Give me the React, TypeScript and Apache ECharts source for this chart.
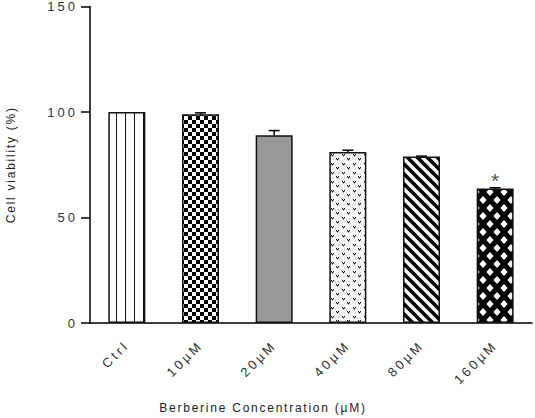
import React, { useEffect, useRef } from "react";
import * as echarts from "echarts";

const categories = ["Ctrl", "10µM", "20µM", "40µM", "80µM", "160µM"];
const means = [100, 98.9, 89.0, 81.1, 78.9, 63.8];
const errors = [0, 0.7, 2.2, 0.8, 0.2, 0.3];
const significant = [false, false, false, false, false, true];
const yMin = 0;
const yMax = 150;
const yInterval = 50;

type Drawer = (ctx: CanvasRenderingContext2D, w: number, h: number) => void;

function makePattern(w: number, h: number, draw: Drawer) {
  const c = document.createElement("canvas");
  c.width = w;
  c.height = h;
  const ctx = c.getContext("2d") as CanvasRenderingContext2D;
  draw(ctx, w, h);
  return { image: c.toDataURL(), imageWidth: w, imageHeight: h, repeat: "repeat" };
}

function buildPatterns() {
  const vlines = makePattern(9, 9, (ctx, w, h) => {
    ctx.fillStyle = "#fff";
    ctx.fillRect(0, 0, w, h);
    ctx.fillStyle = "#111";
    ctx.fillRect(8, 0, 1, h);
  });
  const checker = makePattern(8, 8, (ctx, w, h) => {
    ctx.fillStyle = "#fff";
    ctx.fillRect(0, 0, w, h);
    ctx.fillStyle = "#000";
    ctx.fillRect(0, 0, 4, 4);
    ctx.fillRect(4, 4, 4, 4);
  });
  const gray = "#999999";
  const vees = makePattern(11, 9, (ctx, w, h) => {
    ctx.fillStyle = "#fafafa";
    ctx.fillRect(0, 0, w, h);
    ctx.fillStyle = "#cfcfcf";
    ctx.fillRect(0, 0, 1, 1);
    ctx.fillRect(5, 3, 1, 1);
    ctx.fillRect(9, 7, 1, 1);
    ctx.fillRect(3, 6, 1, 1);
    ctx.fillRect(8, 2, 1, 1);
    const v = (x: number, y: number) => {
      ctx.fillStyle = "#9a9a9a";
      ctx.fillRect(x, y + 1, 1, 1);
      ctx.fillRect(x + 2, y + 1, 1, 1);
      ctx.fillRect(x + 1, y + 2, 1, 1);
      ctx.fillStyle = "#111";
      ctx.fillRect(x, y, 1, 1);
      ctx.fillRect(x + 2, y, 1, 1);
      ctx.fillRect(x + 1, y + 1, 1, 1);
    };
    v(1, 1);
    v(6, 5);
  });
  const diag = makePattern(10, 10, (ctx, w, h) => {
    ctx.fillStyle = "#fff";
    ctx.fillRect(0, 0, w, h);
    ctx.strokeStyle = "#000";
    ctx.lineWidth = 3.6;
    for (let o = -10; o <= 10; o += 10) {
      ctx.beginPath();
      ctx.moveTo(o - 5, -5);
      ctx.lineTo(o + 15, 15);
      ctx.stroke();
    }
  });
  const diamonds = makePattern(14, 16, (ctx, w, h) => {
    ctx.fillStyle = "#000";
    ctx.fillRect(0, 0, w, h);
    ctx.fillStyle = "#fff";
    const d = (cx: number, cy: number) => {
      ctx.beginPath();
      ctx.moveTo(cx, cy - 4.0);
      ctx.lineTo(cx + 3.6, cy);
      ctx.lineTo(cx, cy + 4.0);
      ctx.lineTo(cx - 3.6, cy);
      ctx.closePath();
      ctx.fill();
    };
    d(0, 0);
    d(w, 0);
    d(0, h);
    d(w, h);
    d(w / 2, h / 2);
  });
  return [vlines, checker, gray, vees, diag, diamonds];
}

export default function App() {
  const ref = useRef<HTMLDivElement>(null);
  useEffect(() => {
    if (!ref.current) return;
    const chart = echarts.init(ref.current, null, { renderer: "svg" });
    const fills = buildPatterns();
    const font = "Liberation Sans";
    chart.setOption({
      animation: false,
      grid: {
        left: 90,
        right: 3,
        top: 6.5,
        bottom: 95,
        containLabel: false,
        outerBoundsMode: "none",
      },
      xAxis: {
        type: "category",
        data: categories,
        name: "Berberine Concentration (µM)",
        nameLocation: "middle",
        nameGap: 79,
        nameTextStyle: {
          fontFamily: font,
          fontSize: 12,
          color: "#222",
          padding: [0, 96, 0, 0],
        },
        axisLine: { lineStyle: { color: "#000", width: 1.5 } },
        axisTick: { show: false },
        axisLabel: {
          rotate: 45,
          margin: 20,
          fontFamily: font,
          fontSize: 13,
          color: "#333",
        },
      },
      yAxis: {
        type: "value",
        min: yMin,
        max: yMax,
        interval: yInterval,
        name: "Cell viability (%)",
        nameLocation: "middle",
        nameGap: 73,
        nameTextStyle: { fontFamily: font, fontSize: 12, color: "#222" },
        splitLine: { show: false },
        axisLine: { show: true, lineStyle: { color: "#000", width: 1.5 } },
        axisTick: { show: true, length: 9, lineStyle: { color: "#000", width: 1.5 } },
        axisLabel: { margin: 12, fontFamily: font, fontSize: 13, color: "#333" },
      },
      series: [
        {
          type: "bar",
          barWidth: 37,
          data: means.map((v, i) => ({
            value: v,
            itemStyle: { color: fills[i] },
            label: significant[i]
              ? {
                  show: true,
                  position: "top",
                  distance: -3,
                  formatter: "*",
                  fontFamily: font,
                  fontSize: 21,
                  color: "#555",
                }
              : { show: false },
          })),
          itemStyle: { borderColor: "#111", borderWidth: 1.5 },
          z: 2,
        },
        {
          type: "custom",
          z: 5,
          data: means.map((v, i) => [i, v, errors[i]]),
          renderItem: (params: any, api: any) => {
            const i = api.value(0);
            const m = api.value(1);
            const e = api.value(2);
            if (!e) return null;
            const base = api.coord([i, m]);
            const top = api.coord([i, m + e]);
            const hw = 5.5;
            return {
              type: "group",
              children: [
                {
                  type: "line",
                  shape: { x1: base[0], y1: base[1], x2: top[0], y2: top[1] },
                  style: { stroke: "#000", lineWidth: 1.5 },
                },
                {
                  type: "line",
                  shape: { x1: top[0] - hw, y1: top[1], x2: top[0] + hw, y2: top[1] },
                  style: { stroke: "#000", lineWidth: 1.5 },
                },
              ],
            };
          },
        },
      ],
    });
    return () => chart.dispose();
  }, []);
  return (
    <>
      <style>{`
        #chart-box text[style*="13px"] { letter-spacing: 3px; }
        #chart-box text[style*="12px"] { letter-spacing: 1.75px; }
      `}</style>
      <div
        id="chart-box"
        ref={ref}
        style={{ position: "absolute", left: 0, top: 0, width: 535, height: 418 }}
      />
    </>
  );
}
